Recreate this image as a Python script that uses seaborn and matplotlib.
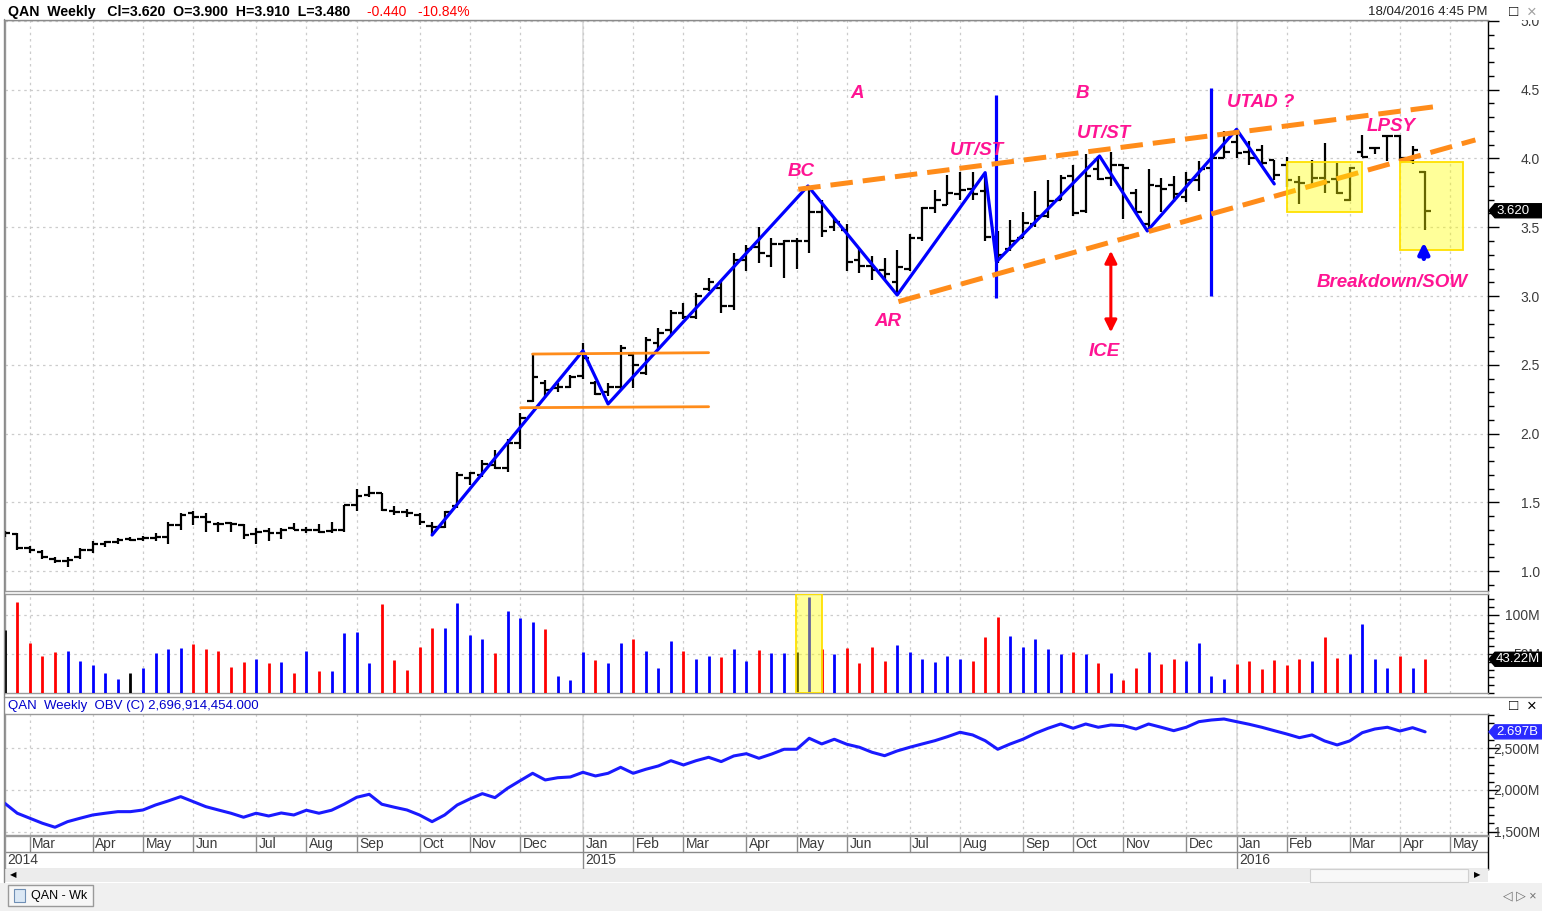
import numpy as np
import pandas as pd
import matplotlib
matplotlib.use("Agg")
import matplotlib.pyplot as plt
import seaborn as sns
from matplotlib.patches import Rectangle, Polygon
from matplotlib.lines import Line2D
from matplotlib.ticker import MultipleLocator, FixedLocator
from matplotlib.transforms import IdentityTransform

sns.set_style("white")
plt.rcParams["font.family"] = ["Liberation Sans", "DejaVu Sans"]

# ---------------- data (weekly bars, Monday dates) ----------------
first_week = "2014-02-17"

opens = [1.27, 1.27, 1.17, 1.14, 1.09, 1.07, 1.10, 1.155, 1.195, 1.21,
         1.23, 1.235, 1.24, 1.25, 1.335, 1.42, 1.39, 1.345, 1.35, 1.335,
         1.27, 1.29, 1.28, 1.31, 1.30, 1.30, 1.29, 1.30, 1.48, 1.55,
         1.565, 1.44, 1.43, 1.41, 1.33, 1.32, 1.47, 1.68, 1.70, 1.77,
         1.75, 1.93, 2.24, 2.37, 2.33, 2.34, 2.42, 2.37, 2.30, 2.34,
         2.57, 2.44, 2.66, 2.75, 2.88, 2.85, 3.05, 3.06, 2.93, 3.26,
         3.36, 3.29, 3.38, 3.40, 3.40, 3.61, 3.50, 3.48, 3.26, 3.22,
         3.19, 3.10, 3.20, 3.42, 3.64, 3.66, 3.74, 3.78, 3.76, 3.43,
         3.34, 3.42, 3.52, 3.58, 3.70, 3.87, 3.62, 3.92, 3.86, 3.95,
         3.75, 3.52, 3.80, 3.81, 3.72, 3.84, 3.93, 4.00, 4.12, 4.05,
         4.06, 3.99, 3.95, 3.83, 3.80, 3.86, 3.85, 3.70, 4.05, 4.075,
         4.16, 4.16, 3.99, 3.90]
highs = [1.29, 1.28, 1.18, 1.15, 1.10, 1.10, 1.165, 1.215, 1.215, 1.24,
         1.245, 1.255, 1.275, 1.36, 1.42, 1.44, 1.42, 1.36, 1.36, 1.345,
         1.31, 1.31, 1.315, 1.35, 1.32, 1.345, 1.355, 1.48, 1.60, 1.615,
         1.57, 1.475, 1.45, 1.42, 1.36, 1.44, 1.72, 1.72, 1.805, 1.88,
         1.96, 2.15, 2.585, 2.39, 2.365, 2.425, 2.655, 2.38, 2.365, 2.645,
         2.585, 2.705, 2.77, 2.90, 2.95, 3.02, 3.13, 3.12, 3.31, 3.37,
         3.50, 3.42, 3.41, 3.42, 3.795, 3.70, 3.565, 3.52, 3.35, 3.29,
         3.28, 3.335, 3.45, 3.65, 3.77, 3.88, 3.90, 3.90, 3.88, 3.47,
         3.55, 3.61, 3.76, 3.84, 3.88, 3.95, 4.03, 4.02, 4.05, 3.96,
         3.78, 3.92, 3.855, 3.87, 3.90, 3.98, 4.03, 4.20, 4.21, 4.13,
         4.10, 3.99, 4.01, 3.87, 3.99, 4.11, 3.97, 3.94, 4.17, 4.08,
         4.17, 4.17, 4.09, 3.91]
lows = [1.25, 1.15, 1.13, 1.09, 1.06, 1.03, 1.085, 1.13, 1.175, 1.20,
        1.215, 1.215, 1.215, 1.20, 1.30, 1.335, 1.285, 1.285, 1.285, 1.23,
        1.20, 1.22, 1.23, 1.295, 1.28, 1.28, 1.28, 1.285, 1.44, 1.54,
        1.44, 1.405, 1.395, 1.335, 1.27, 1.31, 1.46, 1.625, 1.685, 1.745,
        1.72, 1.89, 2.23, 2.255, 2.30, 2.33, 2.40, 2.28, 2.27, 2.315,
        2.33, 2.425, 2.61, 2.72, 2.83, 2.83, 3.04, 2.88, 2.90, 3.18,
        3.24, 3.21, 3.13, 3.20, 3.31, 3.43, 3.47, 3.18, 3.17, 3.12,
        3.12, 3.005, 3.18, 3.40, 3.60, 3.66, 3.70, 3.70, 3.40, 3.24,
        3.33, 3.42, 3.50, 3.57, 3.70, 3.58, 3.60, 3.84, 3.80, 3.56,
        3.60, 3.47, 3.61, 3.68, 3.68, 3.76, 3.90, 4.00, 4.00, 3.95,
        3.95, 3.84, 3.79, 3.67, 3.79, 3.75, 3.74, 3.69, 4.01, 4.03,
        3.98, 3.98, 3.96, 3.48]
closes = [1.28, 1.17, 1.15, 1.10, 1.07, 1.08, 1.155, 1.20, 1.21, 1.225,
          1.225, 1.24, 1.25, 1.335, 1.41, 1.395, 1.36, 1.345, 1.34, 1.26,
          1.285, 1.275, 1.30, 1.295, 1.30, 1.285, 1.30, 1.48, 1.545, 1.565,
          1.445, 1.43, 1.42, 1.36, 1.32, 1.43, 1.70, 1.71, 1.78, 1.75,
          1.93, 2.11, 2.41, 2.32, 2.335, 2.41, 2.55, 2.29, 2.335, 2.62,
          2.50, 2.68, 2.73, 2.88, 2.85, 3.00, 3.10, 2.93, 3.26, 3.34,
          3.31, 3.38, 3.40, 3.40, 3.61, 3.47, 3.54, 3.25, 3.22, 3.19,
          3.16, 3.21, 3.42, 3.64, 3.70, 3.75, 3.77, 3.74, 3.43, 3.30,
          3.40, 3.53, 3.58, 3.69, 3.86, 3.60, 3.87, 3.85, 3.95, 3.93,
          3.61, 3.81, 3.78, 3.74, 3.84, 3.92, 4.00, 4.05, 4.04, 4.00,
          3.97, 3.88, 3.84, 3.82, 3.86, 3.83, 3.75, 3.93, 4.01, 4.075,
          4.16, 4.00, 4.06, 3.62]

# volume in millions and bar colour code (b = up, r = down, k = unchanged)
volume_m = [80.8, 117, 64.5, 47.4, 53, 53.4, 40.6, 35.5, 25.2, 17.9,
            25.2, 31.6, 51.7, 56.4, 57.7, 62.8, 56.4, 53.4, 32.9, 40.2,
            44, 38, 39.2, 25.2, 53.4, 28.2, 28.2, 76.5, 78.2, 38,
            114.5, 42.7, 29.5, 59.4, 82.9, 82.9, 115.8, 74.4, 69.2, 51.7,
            105.5, 96.6, 90.6, 81.6, 21.8, 16.7, 52.6, 42.7, 38, 64.5,
            69.2, 53.4, 31.6, 66.7, 53.4, 44, 47.4, 46.6, 56.4, 40.6,
            55.1, 51.3, 51.3, 52.6, 123.5, 56.4, 50.4, 58.1, 38, 59.4,
            40.6, 62, 53, 44, 39.2, 47.9, 43.2, 40.6, 71.8, 97,
            73.1, 59.4, 69.2, 56.4, 50.4, 53, 50.4, 38, 25.2, 16.7,
            31.6, 53, 36.8, 44, 41.4, 64.5, 21.8, 17.9, 36.8, 40.6,
            30.3, 41.9, 35.5, 44, 40.6, 71.8, 45.3, 50.4, 88.5, 44,
            31.6, 47.4, 31.6, 43.22]
vol_dir = ("krrrrbbbbbkbbbbrrrrrbrbrbrbbbbrrrrrbbbbrbbbrbbbrbbrbbbrbbrbbrbbkbrbrrrrbbbbbbrrrbbbbbrbrbrrbrrbbbbrrrrrrbrrbbbbrbr")

obv_m = [1841, 1721, 1661, 1601, 1553, 1620, 1661, 1700, 1721, 1740,
         1740, 1760, 1820, 1868, 1920, 1860, 1800, 1760, 1721, 1673,
         1721, 1688, 1724, 1700, 1757, 1721, 1757, 1829, 1912, 1948,
         1829, 1793, 1760, 1700, 1620, 1700, 1820, 1892, 1956, 1908,
         2020, 2111, 2200, 2120, 2147, 2156, 2212, 2168, 2200, 2272,
         2200, 2248, 2288, 2351, 2300, 2351, 2392, 2340, 2408, 2435,
         2380, 2430, 2488, 2488, 2620, 2552, 2608, 2548, 2512, 2452,
         2411, 2468, 2512, 2552, 2591, 2639, 2692, 2660, 2591, 2488,
         2552, 2608, 2680, 2740, 2791, 2740, 2791, 2752, 2779, 2771,
         2731, 2791, 2752, 2711, 2752, 2819, 2839, 2851, 2819, 2788,
         2752, 2711, 2671, 2627, 2660, 2588, 2540, 2588, 2687, 2731,
         2752, 2707, 2747, 2697]

# hand drawn annotations, in (week index, price)
zigzag_w = [34.0, 46.0, 48.0, 63.9, 71.0, 78.0, 78.9, 87.1, 90.9, 98.0, 101.0]
zigzag_p = [1.262, 2.602, 2.215, 3.80, 3.007, 3.897, 3.249, 4.018, 3.473, 4.212, 3.815]
event_lines = [(78.9, 2.985, 4.46), (96.0, 3.0, 4.51)]
trend_upper = [(63.13, 3.776), (113.8, 4.377)]
trend_lower = [(71.1, 2.959), (117.0, 4.135)]
range_top = [(42.0, 2.578), (56.0, 2.588)]
range_bottom = [(41.05, 2.188), (56.0, 2.195)]
yellow_boxes = [(102.0, 3.609, 108.0, 3.972), (111.0, 3.335, 116.0, 3.972)]
volume_box = (62.96, 65.0)
labels = [("A", 67.8, 4.476), ("B", 85.7, 4.476), ("BC", 63.35, 3.909),
          ("AR", 70.27, 2.818), ("UT/ST", 77.35, 4.055), ("UT/ST", 87.45, 4.185),
          ("UTAD ?", 99.95, 4.404), ("LPSY", 110.3, 4.236), ("ICE", 87.45, 2.593),
          ("Breakdown/SOW", 110.4, 3.095)]
ice_arrow = (88.0, 2.716, 3.349)
sow_arrow = (112.9, 3.25, 3.41)

# ---------------- layout ----------------
W, H = 1542, 911
PINK = "#FF1493"
ORANGE = "#FF8C1A"
BLUE = "#0000FF"
TICK_COL = "#3c3c3c"
GRID_COL = "#cccccc"

fig = plt.figure(figsize=(W / 100, H / 100), dpi=100)
fig.patch.set_facecolor("white")


def box(x0, y0, x1, y1):
    return [x0 / W, 1 - y1 / H, (x1 - x0) / W, (y1 - y0) / H]


X_LEFT, X_RIGHT = 5, 1488
STEP, X0PIX = 12.57, 4.7
xlim = ((X_LEFT - X0PIX) / STEP, (X_RIGHT - X0PIX) / STEP)

ax_p = fig.add_axes(box(X_LEFT, 20, X_RIGHT, 591))
ax_v = fig.add_axes(box(X_LEFT, 594, X_RIGHT, 693))
ax_o = fig.add_axes(box(X_LEFT, 714, X_RIGHT, 835))
ax_d = fig.add_axes(box(X_LEFT, 836, X_RIGHT, 869))

idx = np.arange(len(closes))
base = pd.Timestamp(first_week)
cal = pd.date_range("2014-02-03", "2016-05-30", freq="W-MON")
cal_idx = ((cal - base).days // 7).to_numpy()
month_start = [i for k, i in enumerate(cal_idx) if k == 0 or cal[k].month != cal[k - 1].month]
month_dates = [cal[k] for k in range(len(cal)) if k == 0 or cal[k].month != cal[k - 1].month]
jan_idx = [i for i, d in zip(month_start, month_dates) if d.month == 1]

for ax in (ax_p, ax_v, ax_o, ax_d):
    ax.set_facecolor("white")
    for s in ("left", "top", "bottom"):
        ax.spines[s].set_color("#9a9a9a")
        ax.spines[s].set_linewidth(1.0)
    ax.spines["right"].set_color("black")
    ax.spines["right"].set_linewidth(1.0)

for ax in (ax_p, ax_v, ax_o):
    ax.set_xticks(month_start)
    ax.tick_params(axis="x", length=0, labelbottom=False)
    ax.grid(True, axis="both", which="major", color=GRID_COL, linestyle=(0, (2, 3)), linewidth=0.9)
    for j in jan_idx:
        ax.axvline(j, color="#dcdcdc", lw=1.2, zorder=0.5)
    ax.yaxis.tick_right()
    ax.tick_params(axis="y", which="major", direction="out", length=8, width=1,
                   colors="black", labelcolor=TICK_COL, labelsize=10, pad=29.5)
    ax.tick_params(axis="y", which="minor", direction="out", length=4, width=1, colors="black")
    ax.set_axisbelow(True)

# ---------------- price panel ----------------
ax_p.yaxis.set_major_locator(FixedLocator(np.arange(1.0, 5.01, 0.5)))
ax_p.yaxis.set_minor_locator(MultipleLocator(0.1))
ax_p.set_yticklabels([f"{v:.1f}" for v in np.arange(1.0, 5.01, 0.5)])

ax_p.vlines(idx, lows, highs, color="black", lw=1.6, zorder=3)
ax_p.hlines(opens, idx - 0.45, idx, color="black", lw=1.6, zorder=3)
ax_p.hlines(closes, idx, idx + 0.45, color="black", lw=1.6, zorder=3)

zig = pd.DataFrame({"w": zigzag_w, "p": zigzag_p})
sns.lineplot(data=zig, x="w", y="p", sort=False, estimator=None, color=BLUE, lw=2.3, ax=ax_p, zorder=4)
for w, lo, hi in event_lines:
    ax_p.vlines(w, lo, hi, color=BLUE, lw=2.3, zorder=4)

for seg in (trend_upper, trend_lower):
    (a, b), (c, d) = seg
    ax_p.plot([a, c], [b, d], color=ORANGE, lw=3.6, linestyle=(0, (4.5, 2)), zorder=4, solid_capstyle="butt")
for seg in (range_top, range_bottom):
    (a, b), (c, d) = seg
    ax_p.plot([a, c], [b, d], color=ORANGE, lw=2.0, zorder=4)

for a, lo, b, hi in yellow_boxes:
    ax_p.add_patch(Rectangle((a, lo), b - a, hi - lo, facecolor=(1, 1, 0, 0.4),
                             edgecolor="#ffe000", lw=1.3, zorder=5))

for txt, w, p in labels:
    ax_p.text(w, p, txt, color=PINK, fontsize=13.5, fontweight="bold", fontstyle="italic",
              ha="center", va="center", zorder=6)

w, lo, hi = ice_arrow
ax_p.annotate("", xy=(w, hi), xytext=(w, lo),
              arrowprops=dict(arrowstyle="<|-|>", color="red", lw=2.2, mutation_scale=18), zorder=6)
w, lo, hi = sow_arrow
ax_p.annotate("", xy=(w, hi), xytext=(w, lo),
              arrowprops=dict(arrowstyle="-|>", color=BLUE, lw=3.2, mutation_scale=16), zorder=6)

# ---------------- volume panel ----------------
col_map = {"b": "#0000ff", "r": "#ff0000", "k": "#000000"}
vol_cols = [col_map[c] for c in vol_dir]
ax_v.vlines(idx, 0, volume_m, colors=vol_cols, lw=2.0, zorder=3)
ax_v.add_patch(Rectangle((volume_box[0], 0), volume_box[1] - volume_box[0], 126.9,
                         facecolor=(1, 1, 0, 0.4), edgecolor="#ffe000", lw=1.3, zorder=5))
ax_v.yaxis.set_major_locator(FixedLocator([50, 100]))
ax_v.yaxis.set_minor_locator(MultipleLocator(10))
ax_v.set_yticklabels(["50M", "100M"])

# ---------------- OBV panel ----------------
obv = pd.DataFrame({"w": idx, "obv": obv_m})
sns.lineplot(data=obv, x="w", y="obv", color="#1a1aff", lw=2.2, ax=ax_o, zorder=3)
ax_o.yaxis.set_major_locator(FixedLocator([1500, 2000, 2500]))
ax_o.yaxis.set_minor_locator(MultipleLocator(100))
ax_o.set_yticklabels(["1,500M", "2,000M", "2,500M"])

# limits last, so tick placement cannot widen them
for ax in (ax_p, ax_v, ax_o, ax_d):
    ax.set_xlim(*xlim)
ax_p.set_ylim(0.855, 5.007)
ax_v.set_ylim(0, 126.9)
ax_o.set_ylim(1460, 2911)

for ax in (ax_p, ax_v, ax_o):
    ax.set_xlabel("")
    ax.set_ylabel("")
    for lab in ax.get_yticklabels():
        lab.set_horizontalalignment("right")

# ---------------- date axis ----------------
ax_d.set_ylim(0, 1)
ax_d.set_xticks([])
ax_d.set_yticks([])
ax_d.set_xlim(*xlim)
ax_d.axhline(0.515, color="#8a8a8a", lw=1)
for i, d in zip(month_start, month_dates):
    ax_d.plot([i, i], [0.515, 1], color="#8a8a8a", lw=1)
    ax_d.text(i + 0.2, 0.76, d.strftime("%b"), fontsize=10, color=TICK_COL, va="center", ha="left", clip_on=True)
    if d.month == 1:
        ax_d.plot([i, i], [0, 0.515], color="#8a8a8a", lw=1)
        ax_d.text(i + 0.2, 0.26, str(d.year), fontsize=10, color=TICK_COL, va="center", ha="left", clip_on=True)
ax_d.text(xlim[0] + 0.2, 0.26, "2014", fontsize=10, color=TICK_COL, va="center", ha="left")
ax_d.set_xlim(*xlim)

# ---------------- window chrome ----------------
fig.add_artist(Rectangle((0, 1 - 19.5 / H), 1, 19.5 / H, transform=fig.transFigure,
                         facecolor="white", edgecolor="none", zorder=5))
fig.add_artist(Line2D([4 / W, X_RIGHT / W], [1 - 19.5 / H] * 2, color="#8a8a8a", lw=1, zorder=6))
fig.text(8 / W, 1 - 12 / H, "QAN  Weekly   Cl=3.620  O=3.900  H=3.910  L=3.480",
         fontsize=10.2, fontweight="bold", color="black", va="center", zorder=7)
fig.text(367 / W, 1 - 12 / H, "-0.440   -10.84%", fontsize=10, color="red", va="center", zorder=7)
fig.text(1487 / W, 1 - 12 / H, "18/04/2016 4:45 PM", fontsize=9.5, color="#222222",
         va="center", ha="right", zorder=7)
fig.text(1514 / W, 1 - 12 / H, "\u25a1", fontsize=11, color="black", va="center", ha="center", zorder=7)
fig.text(1532 / W, 1 - 12 / H, "\u00d7", fontsize=12, color="#a0a0a0", va="center", ha="center", zorder=7)

# OBV header strip
fig.add_artist(Line2D([4 / W, 1], [1 - 697 / H] * 2, color="#9a9a9a", lw=1, zorder=6))
fig.text(8 / W, 1 - 706 / H, "QAN  Weekly  OBV (C) 2,696,914,454.000", fontsize=9.5,
         color="#0000cc", va="center", zorder=7)
fig.text(1514 / W, 1 - 706 / H, "\u25a1", fontsize=11, color="black", va="center", ha="center", zorder=7)
fig.text(1532 / W, 1 - 706 / H, "\u00d7", fontsize=12, color="black", va="center", ha="center", zorder=7)

# scrollbar and tab strip
fig.add_artist(Rectangle((4 / W, 1 - 882 / H), (X_RIGHT - 4) / W, 13 / H, transform=fig.transFigure,
                         facecolor="#ececec", edgecolor="none", zorder=2))
fig.add_artist(Rectangle((1310 / W, 1 - 882 / H), (1468 - 1310) / W, 13 / H, transform=fig.transFigure,
                         facecolor="#f8f8f8", edgecolor="#d0d0d0", lw=0.8, zorder=3))
fig.text(13 / W, 1 - 876 / H, "\u25c0", fontsize=6, color="black", va="center", ha="center", zorder=7)
fig.text(1477 / W, 1 - 876 / H, "\u25b6", fontsize=6, color="black", va="center", ha="center", zorder=7)
fig.add_artist(Rectangle((0, 0), 1, 1 - 883 / H, transform=fig.transFigure,
                         facecolor="#f0f0f0", edgecolor="none", zorder=2))
fig.add_artist(Rectangle((8 / W, 1 - 906 / H), 85 / W, 21 / H, transform=fig.transFigure,
                         facecolor="#f7f7f7", edgecolor="#9a9a9a", lw=1, zorder=3))
fig.add_artist(Rectangle((14 / W, 1 - 902 / H), 11 / W, 13 / H, transform=fig.transFigure,
                         facecolor="#dbe8f5", edgecolor="#6f8fb5", lw=0.8, zorder=4))
fig.text(31 / W, 1 - 896 / H, "QAN - Wk", fontsize=9, color="black", va="center", zorder=7)
fig.text(1520 / W, 1 - 896 / H, "\u25c1 \u25b7 \u00d7", fontsize=9, color="#707070", va="center", ha="center", zorder=7)
fig.add_artist(Line2D([3.5 / W] * 2, [1 - 19 / H, 1 - 882 / H], color="#8a8a8a", lw=1, zorder=6))


# last value tags on the right axis
def value_tag(ax, y, text, fc):
    yd = ax.transData.transform((0, y))[1]
    x0, x1, hh = 1489, 1545, 7
    fig.add_artist(Polygon([(x0, yd), (x0 + 6, yd + hh), (x1, yd + hh), (x1, yd - hh), (x0 + 6, yd - hh)],
                           closed=True, facecolor=fc, edgecolor=fc, transform=IdentityTransform(),
                           zorder=8))
    fig.text(1496 / W, yd / H, text, fontsize=9.5, color="white", va="center", ha="left", zorder=9)


value_tag(ax_p, closes[-1], "3.620", "black")
value_tag(ax_v, volume_m[-1], "43.22M", "black")
value_tag(ax_o, obv_m[-1], "2.697B", "#2a2aff")

fig.savefig("out.png", dpi=100, facecolor="white")
